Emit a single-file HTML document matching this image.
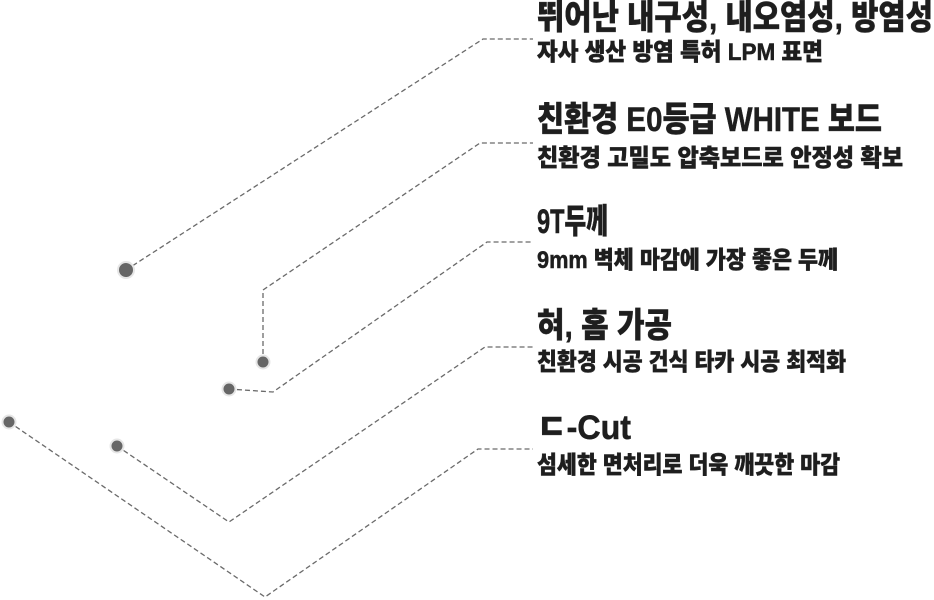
<!DOCTYPE html>
<html><head><meta charset="utf-8"><style>
html,body{margin:0;padding:0;background:#fff;width:934px;height:600px;overflow:hidden}
text{font-family:"Liberation Sans","Noto Sans CJK KR",sans-serif;font-weight:900;fill:#1e1e1e;stroke:#1e1e1e;stroke-width:0.5}
</style></head><body>
<svg width="934" height="600" viewBox="0 0 934 600" xmlns="http://www.w3.org/2000/svg">
<g fill="none" stroke="#6a6a6a" stroke-width="1.3" stroke-dasharray="5,3">
<polyline points="126,270 483,39 533,39"/>
<polyline points="263,362 263,290 480,143 533,143"/>
<polyline points="229,389 273,392 487,242 533,242"/>
<polyline points="117,446 229,522 485,347 533,347"/>
<polyline points="9,422 265,597 478,449 533,449"/>
</g>
<g fill="#666" stroke="#e6e6e6" stroke-width="2">
<circle cx="126" cy="270" r="8"/>
<circle cx="263" cy="362" r="6.5"/>
<circle cx="229" cy="389" r="6.5"/>
<circle cx="9" cy="422" r="6.5"/>
<circle cx="117" cy="446" r="6.5"/>
</g>
<text x="537" y="29" font-size="34" textLength="396" lengthAdjust="spacingAndGlyphs">뛰어난 내구성, 내오염성, 방염성</text>
<text x="537" y="60" font-size="24" textLength="286" lengthAdjust="spacingAndGlyphs">자사 생산 방염 특허 LPM 표면</text>
<text x="537" y="131" font-size="34" textLength="345" lengthAdjust="spacingAndGlyphs">친환경 E0등급 WHITE 보드</text>
<text x="537" y="166" font-size="24" textLength="366" lengthAdjust="spacingAndGlyphs">친환경 고밀도 압축보드로 안정성 확보</text>
<text x="537" y="233" font-size="34" textLength="71" lengthAdjust="spacingAndGlyphs">9T두께</text>
<text x="537" y="268" font-size="24" textLength="301" lengthAdjust="spacingAndGlyphs">9mm 벽체 마감에 가장 좋은 두께</text>
<text x="537" y="337" font-size="34" textLength="135" lengthAdjust="spacingAndGlyphs">혀, 홈 가공</text>
<text x="537" y="370" font-size="24" textLength="309" lengthAdjust="spacingAndGlyphs">친환경 시공 건식 타카 시공 최적화</text>
<text x="537" y="439" font-size="34" textLength="94" lengthAdjust="spacingAndGlyphs">ㄷ-Cut</text>
<text x="537" y="473" font-size="24" textLength="303" lengthAdjust="spacingAndGlyphs">섬세한 면처리로 더욱 깨끗한 마감</text>
</svg>
</body></html>
